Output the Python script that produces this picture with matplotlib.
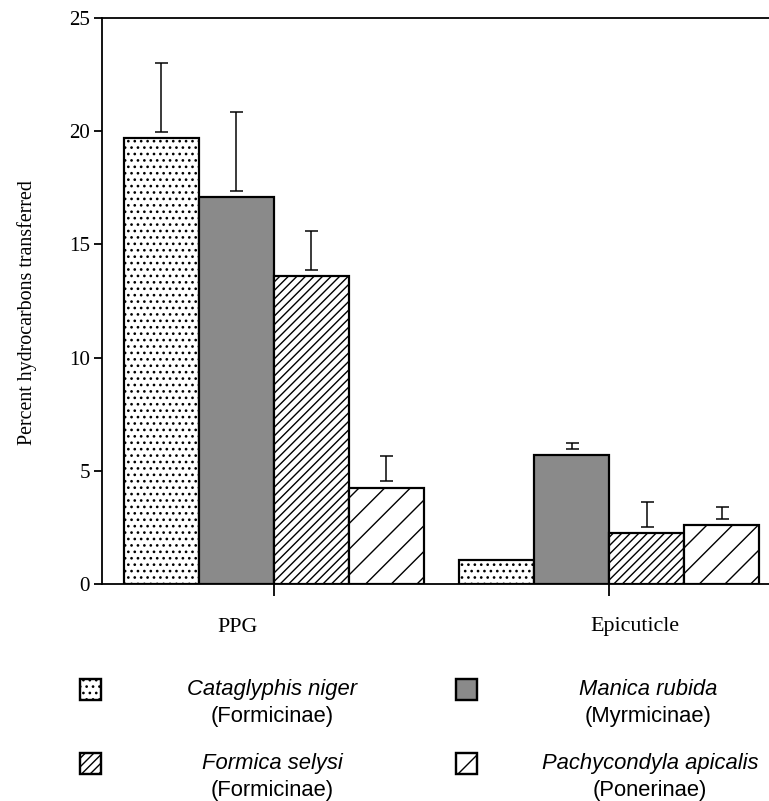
import matplotlib
matplotlib.use("Agg")
import matplotlib.pyplot as plt
from matplotlib.patches import Rectangle
import matplotlib.transforms as mtransforms
import numpy as np

# ---- data -------------------------------------------------------------
groups = ["PPG", "Epicuticle"]
species = ["Cataglyphis niger", "Manica rubida", "Formica selysi", "Pachycondyla apicalis"]
subfamilies = ["(Formicinae)", "(Myrmicinae)", "(Formicinae)", "(Ponerinae)"]

# mean percent of hydrocarbons transferred, [PPG, Epicuticle]
cataglyphis = [19.7, 1.05]
manica = [17.1, 5.7]
formica = [13.6, 2.25]
pachycondyla = [4.25, 2.6]

# upper error (standard error), [PPG, Epicuticle]
cataglyphis_err = [3.3, 0.0]
manica_err = [3.75, 0.55]
formica_err = [2.0, 1.35]
pachycondyla_err = [1.4, 0.8]

yticks = [0, 5, 10, 15, 20, 25]

# ---- style ------------------------------------------------------------
DPI = 77
W, H = 769, 801
PT = 72.0 / DPI  # pixels -> points

plt.rcParams["hatch.linewidth"] = 1.3
serif = ["Liberation Serif", "DejaVu Serif"]
sans = ["Liberation Sans", "DejaVu Sans"]

means = [cataglyphis, manica, formica, pachycondyla]
errs = [cataglyphis_err, manica_err, formica_err, pachycondyla_err]
faces = ["white", "#8a8a8a", "white", "white"]
hatches = ["..", None, "///", "/"]

fig = plt.figure(figsize=(W / DPI, H / DPI), dpi=DPI)
ax = fig.add_axes([102 / W, 1 - 584 / H, 1 - 102 / W, (584 - 18) / H])

group_x = np.array([0.0, 4.47])
width = 1.0
offsets = np.array([-1.5, -0.5, 0.5, 1.5]) * width
gap = 0.28  # small space between bar top and its error line

for i in range(4):
    xs = group_x + offsets[i]
    ax.bar(xs, means[i], width=width, color=faces[i], edgecolor="black",
           linewidth=2.2 * PT, hatch=hatches[i], zorder=2)
    for x, m, e in zip(xs, means[i], errs[i]):
        if e > 0:
            ax.errorbar([x], [m + gap], yerr=[[0], [e - gap]], fmt="none",
                        ecolor="black", elinewidth=1.5 * PT, capsize=6.5 * PT,
                        capthick=1.5 * PT, zorder=3)

ax.set_ylim(0, 25)
ax.set_xlim(-2.29, 6.6)
ax.set_yticks(yticks)
ax.set_yticklabels([str(t) for t in yticks], fontfamily=serif, fontsize=21 * PT)
ax.set_xticks(group_x)
ax.set_xticklabels(["", ""])
ax.tick_params(axis="y", direction="out", length=8 * PT, width=1.8 * PT, pad=4 * PT)
ax.tick_params(axis="x", direction="out", length=12 * PT, width=1.8 * PT)

for s in ["left", "bottom", "top"]:
    ax.spines[s].set_linewidth(1.8 * PT)
ax.spines["right"].set_visible(False)

ax.set_ylabel("Percent hydrocarbons transferred", fontfamily=serif,
              fontsize=20 * PT)
ax.yaxis.set_label_coords(-(102 - 37) / (W - 102), 0.48)

# group labels below the axis
trans = mtransforms.blended_transform_factory(ax.transData, ax.transAxes)
label_shift = [-0.48, 0.34]
for gx, name, dx in zip(group_x, groups, label_shift):
    ax.text(gx + dx, -43 / 566, name, transform=trans, ha="center", va="center",
            fontfamily=serif, fontsize=22 * PT)

# ---- legend -------------------------------------------------------------
sq = 21
sq_x = [80, 456, 80, 456]
sq_y = [679, 679, 753, 753]
txt_x = [272, 648, 272, 650]
for i in range(4):
    r = Rectangle((sq_x[i] / W, 1 - (sq_y[i] + sq) / H), sq / W, sq / H,
                  transform=fig.transFigure, facecolor=faces[i],
                  edgecolor="black", linewidth=2.4 * PT, hatch=hatches[i])
    fig.add_artist(r)
    cy = sq_y[i] + sq / 2
    fig.text(txt_x[i] / W, 1 - cy / H, species[i], ha="center", va="center",
             fontfamily=sans, fontstyle="italic", fontsize=22 * PT)
    fig.text(txt_x[i] / W, 1 - (cy + 27) / H, subfamilies[i], ha="center",
             va="center", fontfamily=sans, fontsize=22 * PT)

fig.savefig("out.png", dpi=DPI)
